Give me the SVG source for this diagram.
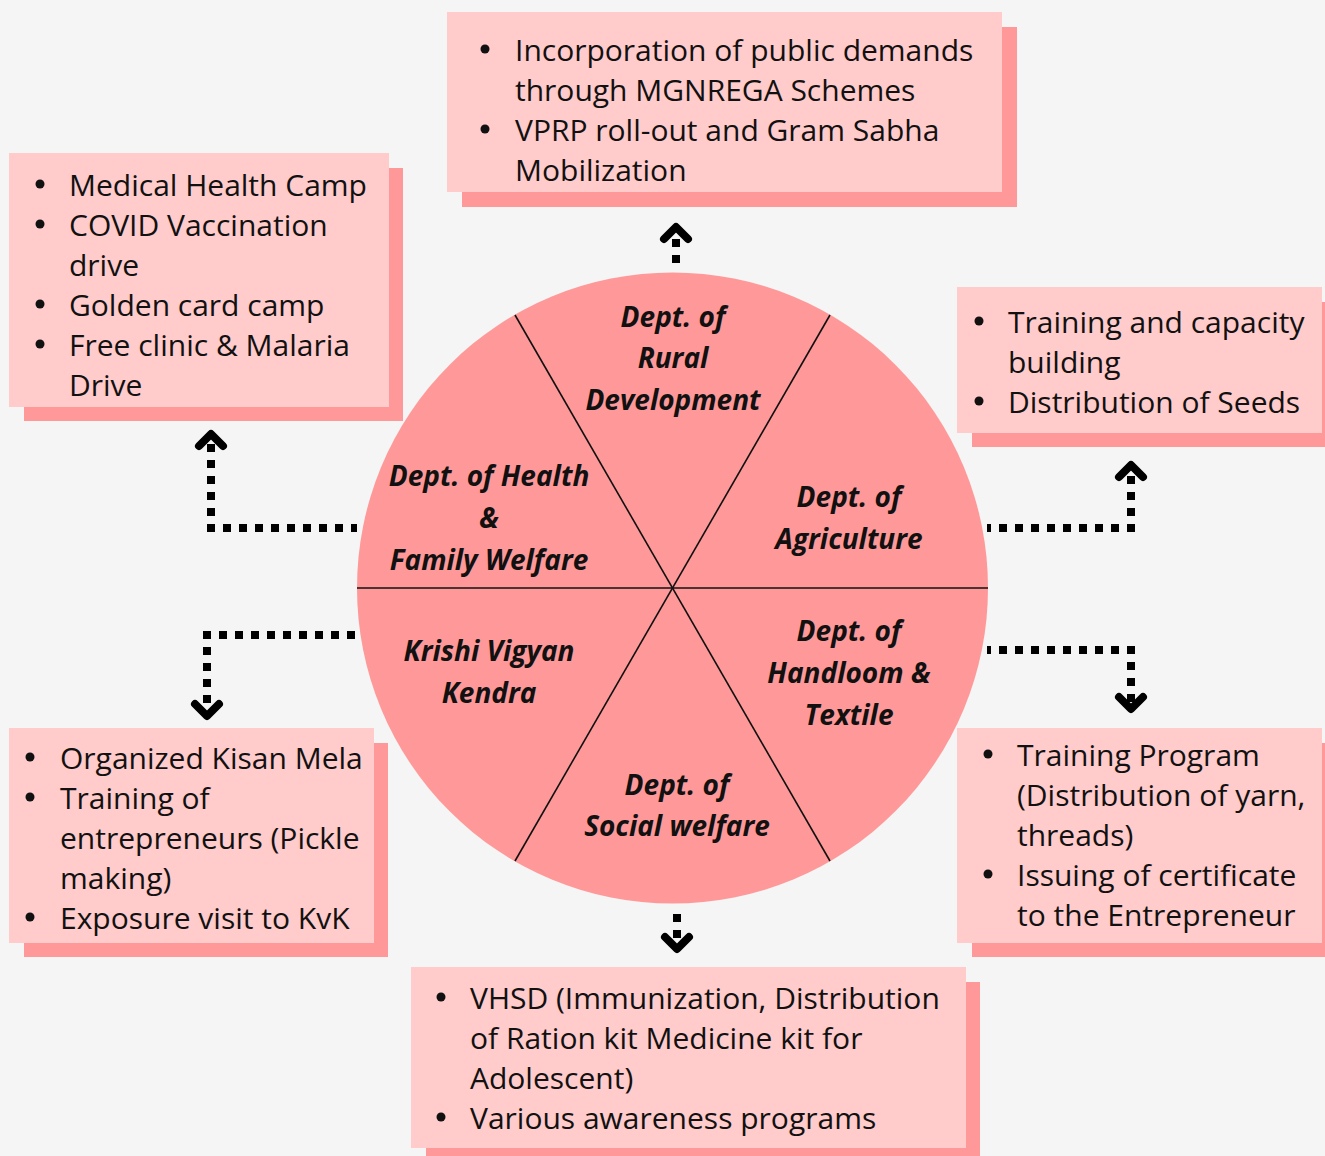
<svg xmlns="http://www.w3.org/2000/svg" width="1325" height="1156" viewBox="0 0 1325 1156">
  <style>
    .shadow { fill: #FF9999; }
    .card { fill: #FFCBCB; }
    .item { font-family: "Open Sans", "Noto Sans", sans-serif; font-size: 30px; fill: #111; }
    .dot { fill: #111; }
    .dept { font-family: "Open Sans", "Noto Sans", sans-serif; font-size: 28px; font-weight: bold; font-style: italic; fill: #111; text-anchor: middle; }
    .wheel { fill: #FF9999; }
    .spoke { stroke: #111; stroke-width: 1.6; fill: none; }
    .dots { stroke: #000; stroke-width: 8; stroke-dasharray: 8 8; fill: none; }
    .head { stroke: #000; stroke-width: 8; stroke-linecap: round; stroke-linejoin: round; fill: none; }
  </style>

  <rect width="1325" height="1156" fill="#F5F5F5"/>

  <!-- central wheel of departments -->
  <g id="wheel">
    <circle class="wheel" cx="672.5" cy="588" r="315.5"/>
    <line class="spoke" x1="357" y1="588" x2="988" y2="588"/>
    <line class="spoke" x1="515" y1="315" x2="830" y2="861"/>
    <line class="spoke" x1="830" y1="315" x2="515" y2="861"/>
  </g>

  <g id="dept-rural">
    <text class="dept" x="673" y="327">Dept. of</text>
    <text class="dept" x="673" y="368">Rural</text>
    <text class="dept" x="673" y="410">Development</text>
  </g>
  <g id="dept-health">
    <text class="dept" x="489" y="486">Dept. of Health</text>
    <text class="dept" x="489" y="528">&amp;</text>
    <text class="dept" x="489" y="570">Family Welfare</text>
  </g>
  <g id="dept-agriculture">
    <text class="dept" x="849" y="507">Dept. of</text>
    <text class="dept" x="849" y="549">Agriculture</text>
  </g>
  <g id="dept-kvk">
    <text class="dept" x="489" y="661">Krishi Vigyan</text>
    <text class="dept" x="489" y="703">Kendra</text>
  </g>
  <g id="dept-handloom">
    <text class="dept" x="849" y="641">Dept. of</text>
    <text class="dept" x="849" y="683">Handloom &amp;</text>
    <text class="dept" x="849" y="725">Textile</text>
  </g>
  <g id="dept-social">
    <text class="dept" x="677" y="795">Dept. of</text>
    <text class="dept" x="677" y="836">Social welfare</text>
  </g>

  <!-- dotted connectors with open chevron heads -->
  <g id="connectors">
    <!-- rural development: up -->
    <path class="dots" d="M676,263 L676,236"/>
    <path class="head" d="M664,239 L676,227 L688,239"/>
    <!-- health: left then up -->
    <path class="dots" d="M207,528 L357,528"/>
    <path class="dots" d="M211,532 L211,442"/>
    <path class="head" d="M199,446 L211,434 L223,446"/>
    <!-- agriculture: right then up -->
    <path class="dots" d="M1135,528 L987,528"/>
    <path class="dots" d="M1131,532 L1131,474"/>
    <path class="head" d="M1119,477 L1131,465 L1143,477"/>
    <!-- KVK: left then down -->
    <path class="dots" d="M203,635 L356,635"/>
    <path class="dots" d="M207,631 L207,705"/>
    <path class="head" d="M195,704 L207,716 L219,704"/>
    <!-- handloom: right then down -->
    <path class="dots" d="M1135,650 L987,650"/>
    <path class="dots" d="M1131,646 L1131,702"/>
    <path class="head" d="M1119,697 L1131,709 L1143,697"/>
    <!-- social welfare: down -->
    <path class="dots" d="M677,914 L677,940"/>
    <path class="head" d="M665,937 L677,949 L689,937"/>
  </g>

  <!-- activity cards -->
  <g id="card-rural">
    <rect class="shadow" x="462" y="27" width="555" height="180"/>
    <rect class="card" x="447" y="12" width="555" height="180"/>
    <circle class="dot" cx="485" cy="49" r="4.5"/>
    <text class="item" x="515" y="61">Incorporation of public demands</text>
    <text class="item" x="515" y="101">through MGNREGA Schemes</text>
    <circle class="dot" cx="485" cy="129" r="4.5"/>
    <text class="item" x="515" y="141">VPRP roll-out and Gram Sabha</text>
    <text class="item" x="515" y="181">Mobilization</text>
  </g>

  <g id="card-health">
    <rect class="shadow" x="24" y="168" width="379" height="253"/>
    <rect class="card" x="9" y="153" width="380" height="254"/>
    <circle class="dot" cx="40" cy="184" r="4.5"/>
    <text class="item" x="69" y="196">Medical Health Camp</text>
    <circle class="dot" cx="40" cy="224" r="4.5"/>
    <text class="item" x="69" y="236">COVID Vaccination</text>
    <text class="item" x="69" y="276">drive</text>
    <circle class="dot" cx="40" cy="304" r="4.5"/>
    <text class="item" x="69" y="316">Golden card camp</text>
    <circle class="dot" cx="40" cy="344" r="4.5"/>
    <text class="item" x="69" y="356">Free clinic &amp; Malaria</text>
    <text class="item" x="69" y="396">Drive</text>
  </g>

  <g id="card-agriculture">
    <rect class="shadow" x="972" y="302" width="360" height="145"/>
    <rect class="card" x="957" y="287" width="365" height="146"/>
    <circle class="dot" cx="979" cy="321" r="4.5"/>
    <text class="item" x="1008" y="333">Training and capacity</text>
    <text class="item" x="1008" y="373">building</text>
    <circle class="dot" cx="979" cy="401" r="4.5"/>
    <text class="item" x="1008" y="413">Distribution of Seeds</text>
  </g>

  <g id="card-kvk">
    <rect class="shadow" x="24" y="743" width="364" height="214"/>
    <rect class="card" x="9" y="728" width="365" height="215"/>
    <circle class="dot" cx="30" cy="757" r="4.5"/>
    <text class="item" x="60" y="769">Organized Kisan Mela</text>
    <circle class="dot" cx="30" cy="797" r="4.5"/>
    <text class="item" x="60" y="809">Training of</text>
    <text class="item" x="60" y="849">entrepreneurs (Pickle</text>
    <text class="item" x="60" y="889">making)</text>
    <circle class="dot" cx="30" cy="917" r="4.5"/>
    <text class="item" x="60" y="929">Exposure visit to KvK</text>
  </g>

  <g id="card-handloom">
    <rect class="shadow" x="972" y="743" width="360" height="214"/>
    <rect class="card" x="957" y="728" width="365" height="215"/>
    <circle class="dot" cx="988" cy="754" r="4.5"/>
    <text class="item" x="1017" y="766">Training Program</text>
    <text class="item" x="1017" y="806">(Distribution of yarn,</text>
    <text class="item" x="1017" y="846">threads)</text>
    <circle class="dot" cx="988" cy="874" r="4.5"/>
    <text class="item" x="1017" y="886">Issuing of certificate</text>
    <text class="item" x="1017" y="926">to the Entrepreneur</text>
  </g>

  <g id="card-social">
    <rect class="shadow" x="426" y="982" width="554" height="180"/>
    <rect class="card" x="411" y="967" width="555" height="181"/>
    <circle class="dot" cx="441" cy="997" r="4.5"/>
    <text class="item" x="470" y="1009">VHSD (Immunization, Distribution</text>
    <text class="item" x="470" y="1049">of Ration kit Medicine kit for</text>
    <text class="item" x="470" y="1089">Adolescent)</text>
    <circle class="dot" cx="441" cy="1117" r="4.5"/>
    <text class="item" x="470" y="1129">Various awareness programs</text>
  </g>
</svg>
